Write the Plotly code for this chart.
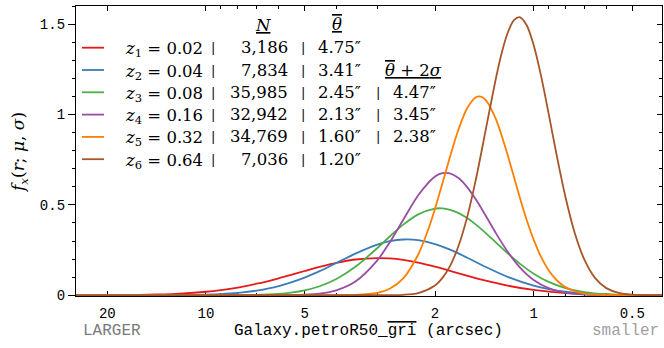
import plotly.graph_objects as go

# ---------------- data ----------------
redshift = [0.02, 0.04, 0.08, 0.16, 0.32, 0.64]
counts = ["3,186", "7,834", "35,985", "32,942", "34,769", "7,036"]
theta_mean = ["4.75″", "3.41″", "2.45″", "2.13″", "1.60″", "1.20″"]
theta_2sig = [None, None, "4.47″", "3.45″", "2.38″", None]
colors = ["#e41a1c", "#377eb8", "#4daf4a", "#984ea3", "#ff7f00", "#a65628"]

r_z1 = [25, 20, 16, 14, 12, 10, 9, 8, 7, 6, 5.5, 5, 4.5, 4, 3.5, 3, 2.75, 2.5, 2.25, 2,
        1.8, 1.6, 1.4, 1.2, 1.0, 0.8, 0.6, 0.5, 0.4]
f_z1 = [0.0001, 0.0006, 0.0021, 0.0043, 0.0090, 0.0194, 0.0288, 0.0429, 0.0638, 0.0939,
        0.1129, 0.1343, 0.1572, 0.1796, 0.1979, 0.2059, 0.2036, 0.1954, 0.1805, 0.1582,
        0.1354, 0.1090, 0.0807, 0.0531, 0.0293, 0.0122, 0.0031, 0.0011, 0.0003]

r_z2 = [25, 20, 16, 14, 12, 10, 9, 8, 7, 6, 5, 4.5, 4, 3.5, 3, 2.75, 2.5, 2.25, 2,
        1.8, 1.6, 1.4, 1.2, 1.0, 0.9, 0.8, 0.7, 0.6, 0.5, 0.4]
f_z2 = [0.0, 0.0, 0.0001, 0.0003, 0.0011, 0.0036, 0.0069, 0.0132, 0.0258, 0.0505,
        0.0976, 0.1334, 0.1785, 0.2304, 0.2804, 0.2989, 0.3085, 0.3048, 0.2835,
        0.2523, 0.2088, 0.1564, 0.1015, 0.0531, 0.0341, 0.0196, 0.0097, 0.0039, 0.0012, 0.0002]

r_z3 = [25, 12, 10, 9, 8, 7, 6, 5.5, 5, 4.5, 4, 3.5, 3, 2.75, 2.5, 2.25, 2, 1.9, 1.8,
        1.7, 1.6, 1.5, 1.4, 1.3, 1.2, 1.1, 1.0, 0.9, 0.8, 0.7, 0.6, 0.5, 0.4]
f_z3 = [0.0, 0.0, 0.0001, 0.0003, 0.0008, 0.0025, 0.0082, 0.0149, 0.0273, 0.0498,
        0.0898, 0.1574, 0.2611, 0.3250, 0.3907, 0.4477, 0.4794, 0.4805, 0.4729,
        0.4557, 0.4283, 0.3907, 0.3439, 0.2899, 0.2318, 0.1735, 0.1195, 0.0740,
        0.0398, 0.0177, 0.0060, 0.0014, 0.0002]

r_z4 = [25, 7, 6, 5.5, 5, 4.5, 4, 3.5, 3, 2.75, 2.5, 2.25, 2, 1.9, 1.8, 1.7, 1.6, 1.5,
        1.4, 1.3, 1.2, 1.1, 1.0, 0.9, 0.8, 0.7, 0.6, 0.5, 0.4]
f_z4 = [0.0, 0.0, 0.0004, 0.0011, 0.0032, 0.0095, 0.0273, 0.0757, 0.1930, 0.2920,
        0.4179, 0.5537, 0.6573, 0.6756, 0.6741, 0.6497, 0.6010, 0.5293, 0.4395,
        0.3397, 0.2405, 0.1527, 0.0844, 0.0391, 0.0143, 0.0038, 0.0007, 0.0001, 0.0]

r_z5 = [25, 4.5, 4, 3.5, 3, 2.75, 2.5, 2.25, 2.1, 2, 1.9, 1.8, 1.7, 1.6, 1.5, 1.45,
        1.4, 1.3, 1.2, 1.1, 1.05, 1.0, 0.95, 0.9, 0.85, 0.8, 0.7, 0.6, 0.5, 0.4]
f_z5 = [0.0, 0.0, 0.0002, 0.0016, 0.0131, 0.0360, 0.0939, 0.2257, 0.3611, 0.4790,
        0.6166, 0.7658, 0.9115, 1.0306, 1.0951, 1.0984, 1.0789, 0.9685, 0.7745,
        0.5355, 0.4166, 0.3075, 0.2137, 0.1387, 0.0831, 0.0453, 0.0095, 0.0011, 0.0, 0.0]

r_z6 = [25, 3, 2.5, 2.25, 2, 1.9, 1.8, 1.7, 1.6, 1.5, 1.4, 1.3, 1.25, 1.2, 1.15, 1.1,
        1.05, 1.0, 0.95, 0.9, 0.85, 0.8, 0.75, 0.7, 0.65, 0.6, 0.55, 0.5, 0.45, 0.4]
f_z6 = [0.0, 0.0001, 0.0027, 0.0124, 0.0542, 0.0948, 0.1615, 0.2667, 0.4239, 0.6422,
        0.9158, 1.2104, 1.3439, 1.4519, 1.5208, 1.5377, 1.4932, 1.3843, 1.2166,
        1.0049, 0.7721, 0.5449, 0.3478, 0.1969, 0.0964, 0.0396, 0.0131, 0.0033,
        0.0006, 0.0001]

x_tick_vals = [20, 10, 5, 2, 1, 0.5]
x_tick_text = ["20", "10", "5", "2", "1", "0.5"]
y_tick_vals = [0, 0.5, 1, 1.5]
y_tick_text = ["0", "0.5", "1", "1.5"]

series_r = [r_z1, r_z2, r_z3, r_z4, r_z5, r_z6]
series_f = [f_z1, f_z2, f_z3, f_z4, f_z5, f_z6]

# ---------------- figure ----------------
W, H = 664, 348
ML, MR, MT, MB = 76, 2, 6, 52
PW, PH = W - ML - MR, H - MT - MB


def px(x):
    return (x - ML) / PW


def py(y):
    return (H - MB - y) / PH


MONO = "Liberation Mono"
SERIF = "DejaVu Serif"

fig = go.Figure()
for k in range(6):
    fig.add_trace(go.Scatter(
        x=series_r[k], y=series_f[k], mode="lines",
        line=dict(color=colors[k], width=1.8, shape="spline", smoothing=0.8),
        showlegend=False, hoverinfo="skip"))
# empty trace to activate the right-hand mirrored axis
fig.add_trace(go.Scatter(x=[], y=[], yaxis="y2", showlegend=False))

axis_font = dict(family=MONO, size=14, color="black")
fig.update_layout(
    width=W, height=H,
    margin=dict(l=ML, r=MR, t=MT, b=MB, pad=0),
    paper_bgcolor="white", plot_bgcolor="white",
    xaxis=dict(
        type="log", range=[1.3966, -0.3917], autorange=False,
        tickvals=x_tick_vals, ticktext=x_tick_text,
        ticks="inside", ticklen=5, tickwidth=1, tickcolor="black",
        minor=dict(ticks="inside", ticklen=3, dtick="D1", tickcolor="black", showgrid=False),
        showline=True, linecolor="black", linewidth=1.3, mirror="ticks",
        showgrid=False, zeroline=False, tickfont=axis_font, ticklabelstandoff=4,
        layer="below traces"),
    yaxis=dict(
        range=[-0.004, 1.6], autorange=False,
        tickvals=y_tick_vals, ticktext=y_tick_text,
        ticks="outside", ticklen=7, tickwidth=1, tickcolor="black",
        minor=dict(ticks="outside", ticklen=3, dtick=0.1, tickcolor="black", showgrid=False),
        showline=True, linecolor="black", linewidth=1.3, mirror=True,
        showgrid=False, zeroline=False, tickfont=axis_font,
        layer="below traces"),
    yaxis2=dict(
        overlaying="y", side="right", matches="y", anchor="x",
        tickvals=y_tick_vals, showticklabels=False,
        ticks="inside", ticklen=5, tickwidth=1, tickcolor="black",
        minor=dict(ticks="inside", ticklen=3, dtick=0.1, tickcolor="black", showgrid=False),
        showline=False, showgrid=False, zeroline=False),
)

ann = []
# axis titles and side labels
ann.append(dict(text="Galaxy.petroR50_<span style='text-decoration:overline'>gri</span> (arcsec)",
                x=px(368.5), y=py(331), xref="paper", yref="paper", showarrow=False,
                xanchor="center", yanchor="middle", font=dict(family=MONO, size=16, color="black")))
ann.append(dict(text="LARGER", x=px(81), y=py(331), xref="paper", yref="paper", showarrow=False,
                xanchor="left", yanchor="middle", font=dict(family=MONO, size=16, color="#7a7a7a")))
ann.append(dict(text="smaller", x=px(661), y=py(331), xref="paper", yref="paper", showarrow=False,
                xanchor="right", yanchor="middle", font=dict(family=MONO, size=16, color="#a0a0a0")))
ann.append(dict(text="<i>f<sub>x</sub></i>(<i>r</i>; <i>μ</i>, <i>σ</i>)", textangle=-90,
                x=px(19), y=py(153), xref="paper", yref="paper", showarrow=False,
                xanchor="center", yanchor="middle", font=dict(family=SERIF, size=17, color="black")))

# table-style legend
lf = dict(family=SERIF, size=16.5, color="black")
ann.append(dict(text="<u><i>N</i></u>", x=px(263), y=py(25), xref="paper", yref="paper",
                showarrow=False, xanchor="center", yanchor="middle", font=lf))
ann.append(dict(text="<u><span style='text-decoration:overline'><i>θ</i></span></u>",
                x=px(337), y=py(24), xref="paper", yref="paper",
                showarrow=False, xanchor="center", yanchor="middle", font=lf))
ann.append(dict(text="<u><span style='text-decoration:overline'><i>θ</i></span> + 2<i>σ</i></u>",
                x=px(413), y=py(70), xref="paper", yref="paper",
                showarrow=False, xanchor="center", yanchor="middle", font=lf))

row_y = [47.7, 70.0, 92.3, 114.6, 136.9, 159.2]
shapes = []
for k in range(6):
    yy = py(row_y[k])
    shapes.append(dict(type="line", xref="paper", yref="paper", x0=px(82), x1=px(104),
                       y0=yy, y1=yy, line=dict(color=colors[k], width=1.8)))
    ann.append(dict(text=f"<i>z</i><sub>{k + 1}</sub> = {redshift[k]:.2f}", x=px(123), y=py(row_y[k] + 2),
                    xref="paper", yref="paper", showarrow=False, xanchor="left", yanchor="middle", font=lf))
    ann.append(dict(text="|", x=px(213.3), y=yy, xref="paper", yref="paper", showarrow=False,
                    xanchor="center", yanchor="middle", font=dict(family=SERIF, size=13, color="black")))
    ann.append(dict(text=counts[k], x=px(290), y=yy, xref="paper", yref="paper", showarrow=False,
                    xanchor="right", yanchor="middle", font=lf))
    ann.append(dict(text="|", x=px(303.3), y=yy, xref="paper", yref="paper", showarrow=False,
                    xanchor="center", yanchor="middle", font=dict(family=SERIF, size=13, color="black")))
    ann.append(dict(text=theta_mean[k], x=px(316), y=yy, xref="paper", yref="paper", showarrow=False,
                    xanchor="left", yanchor="middle", font=lf))
    if theta_2sig[k] is not None:
        ann.append(dict(text="|", x=px(378.3), y=yy, xref="paper", yref="paper", showarrow=False,
                        xanchor="center", yanchor="middle", font=dict(family=SERIF, size=13, color="black")))
        ann.append(dict(text=theta_2sig[k], x=px(391), y=yy, xref="paper", yref="paper", showarrow=False,
                        xanchor="left", yanchor="middle", font=lf))

fig.update_layout(annotations=ann, shapes=shapes)
fig.write_html("out.html")
